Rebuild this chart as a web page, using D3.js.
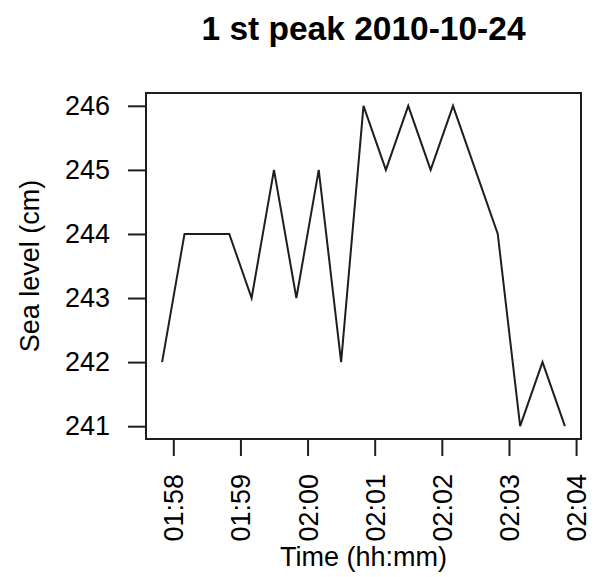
<!DOCTYPE html>
<html>
<head>
<meta charset="utf-8">
<script src="https://cdn.jsdelivr.net/npm/d3@7"></script>
<style>
  html, body { margin: 0; padding: 0; background: #fff; }
  svg text { font-family: "Liberation Sans", Arial, sans-serif; fill: #000; }
</style>
</head>
<body>
<svg id="chart" width="596" height="577"></svg>
<script>
// Sea level readings, 20-second sampling
const times = ["01:57:50","01:58:10","01:58:30","01:58:50","01:59:10","01:59:30","01:59:50",
               "02:00:10","02:00:30","02:00:50","02:01:10","02:01:30","02:01:50","02:02:10",
               "02:02:30","02:02:50","02:03:10","02:03:30","02:03:50"];
const seaLevel = [242,244,244,244,243,245,243,245,242,246,245,246,245,246,245,244,241,242,241];
const xTickLabels = ["01:58","01:59","02:00","02:01","02:02","02:03","02:04"];
const yTicks = [241,242,243,244,245,246];
const title = "1 st peak 2010-10-24";
const xTitle = "Time (hh:mm)";
const yTitle = "Sea level (cm)";

const parse = d3.timeParse("%Y-%m-%d %H:%M:%S");
const day = "2010-10-24 ";
const dates = times.map(t => parse(day + t));
const tickDates = xTickLabels.map(t => parse(day + t + ":00"));

const box = { left: 146, right: 581, top: 93, bottom: 439 };
const svg = d3.select("#chart");

// 4% padding on both axes
const tExt = d3.extent(dates);
const tPad = (tExt[1] - tExt[0]) * 0.04;
const x = d3.scaleTime()
  .domain([new Date(+tExt[0] - tPad), new Date(+tExt[1] + tPad)])
  .range([box.left, box.right]);

const vExt = d3.extent(seaLevel);
const vPad = (vExt[1] - vExt[0]) * 0.04;
const y = d3.scaleLinear()
  .domain([vExt[0] - vPad, vExt[1] + vPad])
  .range([box.bottom, box.top]);

const ink = "#1e1e1e";

// data line
svg.append("path")
  .datum(seaLevel.map((v, i) => [dates[i], v]))
  .attr("fill", "none")
  .attr("stroke", ink)
  .attr("stroke-width", 2)
  .attr("stroke-linejoin", "miter")
  .attr("d", d3.line().x(d => x(d[0])).y(d => y(d[1])));

// y axis
const yAxis = svg.append("g")
  .attr("transform", `translate(${box.left},0)`)
  .call(d3.axisLeft(y).tickValues(yTicks).tickSize(18).tickPadding(18).tickFormat(d3.format("d")));
yAxis.select(".domain").remove();
yAxis.selectAll(".tick line").attr("stroke", ink).attr("stroke-width", 2);
yAxis.selectAll(".tick text").attr("font-size", 27).attr("fill", "#000");

// x axis with vertical labels
const fmt = d3.timeFormat("%H:%M");
const xAxis = svg.append("g")
  .attr("transform", `translate(0,${box.bottom})`)
  .call(d3.axisBottom(x).tickValues(tickDates).tickSize(17).tickFormat(fmt));
xAxis.select(".domain").remove();
xAxis.selectAll(".tick line").attr("stroke", ink).attr("stroke-width", 2);
xAxis.selectAll(".tick text")
  .attr("font-size", 27)
  .attr("fill", "#000")
  .attr("text-anchor", "end")
  .attr("transform", "translate(0,35) rotate(-90)")
  .attr("x", 0).attr("y", 0)
  .attr("dy", "0.35em");

// plot frame
svg.append("rect")
  .attr("x", box.left).attr("y", box.top)
  .attr("width", box.right - box.left).attr("height", box.bottom - box.top)
  .attr("fill", "none").attr("stroke", ink).attr("stroke-width", 2);

// titles
svg.append("text")
  .attr("x", (box.left + box.right) / 2).attr("y", 40)
  .attr("text-anchor", "middle")
  .attr("font-size", 33.5).attr("font-weight", "bold")
  .text(title);

svg.append("text")
  .attr("x", (box.left + box.right) / 2).attr("y", 566)
  .attr("text-anchor", "middle")
  .attr("font-size", 27)
  .text(xTitle);

svg.append("text")
  .attr("transform", `translate(39,${(box.top + box.bottom) / 2}) rotate(-90)`)
  .attr("text-anchor", "middle")
  .attr("font-size", 27)
  .text(yTitle);
</script>
</body>
</html>
